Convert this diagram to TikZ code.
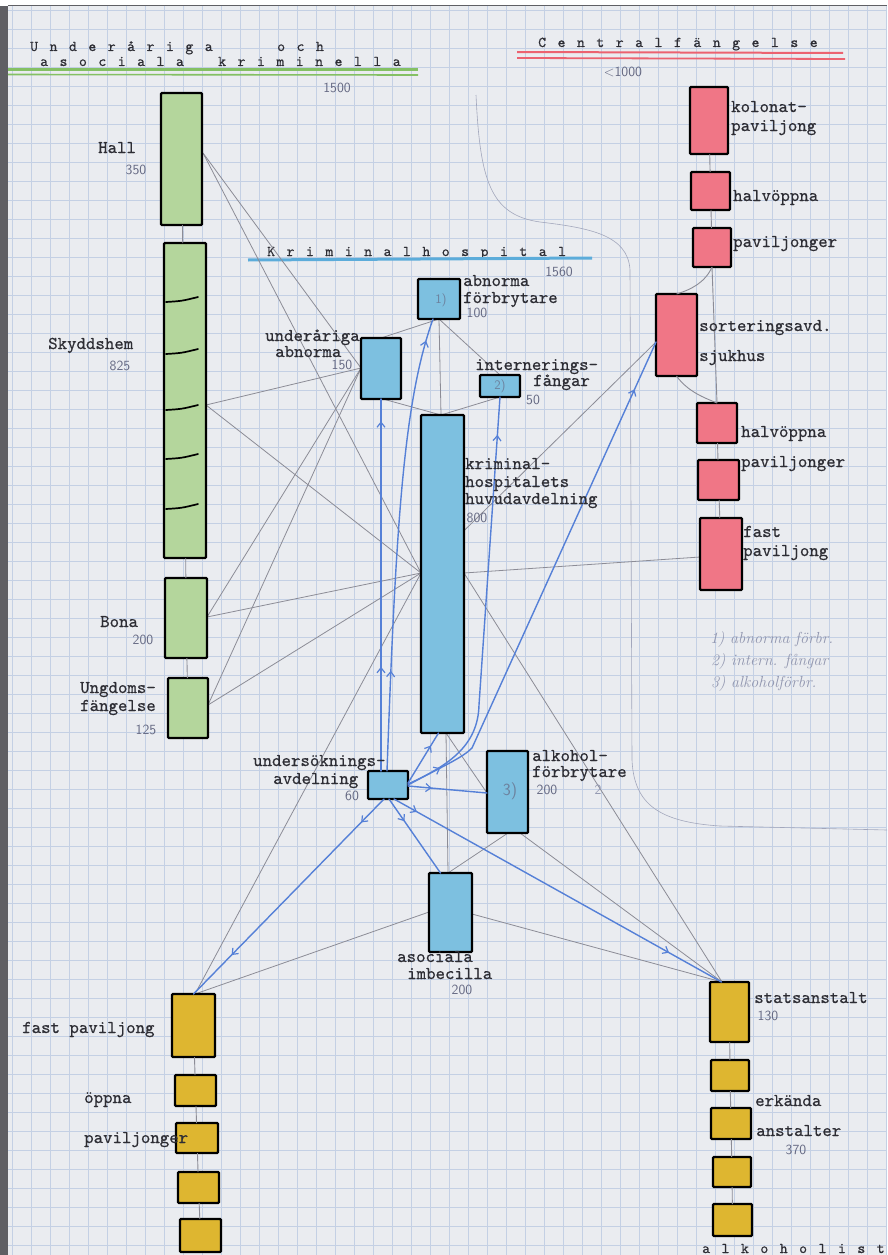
\documentclass[tikz,border=0pt]{standalone}
\usepackage{fontspec}
\newfontfamily\tw{lmmono10-regular.otf}[FakeBold=0.6]
\newfontfamily\twt{lmmono10-regular.otf}[FakeBold=0.6,LetterSpace=11,WordSpace=1.21]
\usetikzlibrary{arrows.meta,decorations.markings}
\definecolor{paper}{RGB}{234,236,240}
\definecolor{gridc}{RGB}{196,208,228}
\definecolor{edgec}{RGB}{95,95,100}
\definecolor{ink}{RGB}{45,45,52}
\definecolor{pencil}{RGB}{100,104,130}
\definecolor{faint}{RGB}{145,150,175}
\definecolor{gfill}{RGB}{180,214,156}
\definecolor{bfill}{RGB}{125,192,224}
\definecolor{rfill}{RGB}{240,118,134}
\definecolor{yfill}{RGB}{222,182,48}
\definecolor{gline}{RGB}{140,140,150}
\definecolor{bpen}{RGB}{85,128,215}
\definecolor{gunder}{RGB}{132,192,100}
\definecolor{runder}{RGB}{236,98,112}
\definecolor{bunder}{RGB}{92,172,218}
\begin{document}
\begin{tikzpicture}[x=1pt,y=-1pt,
  box/.style={draw=black, line width=2.2pt, rounded corners=1pt, inner sep=0pt, outer sep=0pt},
  gbox/.style={box, fill=gfill}, bbox/.style={box, fill=bfill},
  rbox/.style={box, fill=rfill}, ybox/.style={box, fill=yfill},
  tw/.style={font=\tw\fontsize{18}{18}\selectfont, text=ink, inner sep=0pt, anchor=base west},
  ttl/.style={font=\twt\fontsize{15}{15}\selectfont, text=ink, inner sep=0pt, anchor=base west},
  num/.style={font=\sffamily\fontsize{14}{14}\selectfont, text=pencil, inner sep=0pt},
  inbox/.style={font=\sffamily\fontsize{13}{13}\selectfont, text=pencil!70!bfill, inner sep=0pt},
  note/.style={font=\itshape\fontsize{16}{16}\selectfont, text=faint, inner sep=0pt, anchor=base west},
  gl/.style={draw=gline, line width=0.8pt},
  colline/.style={draw=gline, line width=0.9pt},
  bl/.style={draw=bpen, line width=1.4pt, line cap=round},
  marr/.style={postaction={decorate,decoration={markings,mark=at position #1 with {\arrow[bpen,line width=1.2pt]{Straight Barb[length=5pt,width=8pt]}}}}}
]
\useasboundingbox (0,0) rectangle (887,1255);
% paper
\fill[white] (0,0) rectangle (887,1255);
\fill[paper] (8,6) rectangle (887,1255);
\fill[edgec] (0,6) rectangle (8,1255);
\draw[edgec, line width=1pt] (8,6) -- (887,6);
\foreach \i in {0,...,46} {\draw[gridc, line width=0.6pt] (12+19*\i,6) -- (12+19*\i,1255);}
\foreach \j in {0,...,65} {\draw[gridc, line width=0.6pt] (8,10+19*\j) -- (887,10+19*\j);}
% faint pencil outline
\draw[faint!80!paper, line width=0.6pt] (476,95) .. controls (480,180) and (490,215) .. (540,222)
  .. controls (590,228) and (628,235) .. (630,270) -- (632,760)
  .. controls (634,805) and (660,822) .. (720,826) -- (887,830);

% titles
\node[ttl] (t1a) at (30,51) {U n d e r å r i g a};
\node[ttl] (t1b) at (277,51) {o c h};
\node[ttl] (t1c) at (40,66) {a s o c i a l a};
\node[ttl] (t1d) at (218,66) {k r i m i n e l l a};
\draw[gunder, line width=2.2pt] (8,69.5) -- (418,69.5);
\draw[gunder, line width=1.6pt] (8,74.5) -- (418,75);
\node[ttl] (t2) at (538,47) {C e n t r a l f ä n g e l s e};
\draw[runder, line width=2pt] (517,52) -- (843,53);
\draw[runder, line width=1.8pt] (517,58) -- (845,59);
\node[ttl] (t3) at (267,256) {K r i m i n a l h o s p i t a l};
\draw[bunder, line width=3pt] (248,260) -- (592,258);
\node[num] (n1500) at (337,88) {1500};
\node[num] (n1000) at (623,72) {<1000};
\node[num] (n1560) at (559,272) {1560};

% attachment coordinates
\coordinate (hallP) at (203,153);
\coordinate (skyP) at (206,405);
\coordinate (bonaP) at (207,617);
\coordinate (ungP) at (208,705);
\coordinate (undL) at (361,368);
\coordinate (undT) at (381,338);
\coordinate (undB) at (383,399);
\coordinate (abnB) at (439,319);
\coordinate (intT) at (500,375);
\coordinate (intB) at (500,397);
\coordinate (huvT) at (441,415);
\coordinate (hub) at (421,573);
\coordinate (huvR) at (464,573);
\coordinate (huvB) at (446,733);
\coordinate (fastRL) at (700,557);
\coordinate (sortL) at (656,342);
\coordinate (yelT) at (195,994);
\coordinate (asoL) at (429,912);
\coordinate (asoR) at (472,914);
\coordinate (asoT) at (448,873);
\coordinate (alkL) at (487,793);
\coordinate (alkB) at (508,833);
\coordinate (alkBR) at (520,833);
\coordinate (statT) at (722,982);

% gray connectors
\draw[gl] (hallP) -- (undL);
\draw[gl] (hallP) -- (hub);
\draw[gl] (skyP) -- (undL);
\draw[gl] (skyP) -- (hub);
\draw[gl] (bonaP) -- (undL);
\draw[gl] (bonaP) -- (hub);
\draw[gl] (ungP) -- (undL);
\draw[gl] (ungP) -- (hub);
\draw[gl] (yelT) -- (hub);
\draw[gl] (yelT) -- (asoL);
\draw[gl] (sortL) -- (hub);
\draw[gl] (huvR) -- (fastRL);
\draw[gl] (huvR) -- (statT);
\draw[gl] (abnB) -- (undT);
\draw[gl] (abnB) -- (intT);
\draw[gl] (abnB) -- (huvT);
\draw[gl] (undB) -- (huvT);
\draw[gl] (intB) -- (huvT);
\draw[gl] (huvB) -- (asoT);
\draw[gl] (huvB) -- (alkL);
\draw[gl] (asoT) -- (alkB);
\draw[gl] (asoR) -- (statT);
\draw[gl] (alkBR) -- (statT);

% boxes (nodes)
\node[gbox, minimum width=41pt, minimum height=132pt] (hall) at (181.5,159) {};
\node[gbox, minimum width=42pt, minimum height=315pt] (skydd) at (185,400.5) {};
\node[gbox, minimum width=42pt, minimum height=80pt] (bona) at (186,618) {};
\node[gbox, minimum width=40pt, minimum height=60pt] (ungd) at (188,708) {};
\node[bbox, minimum width=42pt, minimum height=40pt] (abnf) at (439,299) {};
\node[bbox, minimum width=40pt, minimum height=61pt] (undab) at (381,368.5) {};
\node[bbox, minimum width=40pt, minimum height=22pt] (intern) at (500,386) {};
\node[bbox, minimum width=43pt, minimum height=318pt] (huvud) at (442.5,574) {};
\node[bbox, minimum width=40pt, minimum height=28pt] (usk) at (388,785) {};
\node[bbox, minimum width=41pt, minimum height=82pt] (alk) at (507.5,792) {};
\node[bbox, minimum width=43pt, minimum height=79pt] (aso) at (450.5,912.5) {};
\node[rbox, minimum width=38pt, minimum height=67pt] (kolonat) at (709,120.5) {};
\node[rbox, minimum width=39pt, minimum height=38pt] (halvA) at (710.5,191) {};
\node[rbox, minimum width=38pt, minimum height=39pt] (pavA) at (712,247.5) {};
\node[rbox, minimum width=41pt, minimum height=82pt] (sort) at (676.5,335) {};
\node[rbox, minimum width=40pt, minimum height=40pt] (halvB) at (717,423) {};
\node[rbox, minimum width=41pt, minimum height=40pt] (pavB) at (718.5,480) {};
\node[rbox, minimum width=42pt, minimum height=72pt] (fastR) at (721,554) {};
\node[ybox, minimum width=43pt, minimum height=63pt] (fastL) at (193.5,1025.5) {};
\node[ybox, minimum width=41pt, minimum height=31pt] (yl2) at (195.5,1090.5) {};
\node[ybox, minimum width=42pt, minimum height=30pt] (yl3) at (197,1138) {};
\node[ybox, minimum width=41pt, minimum height=31pt] (yl4) at (198.5,1187.5) {};
\node[ybox, minimum width=41pt, minimum height=33pt] (yl5) at (200.5,1235.5) {};
\node[ybox, minimum width=39pt, minimum height=60pt] (stat) at (729.5,1012) {};
\node[ybox, minimum width=38pt, minimum height=31pt] (yr2) at (730,1075.5) {};
\node[ybox, minimum width=40pt, minimum height=31pt] (yr3) at (731,1123.5) {};
\node[ybox, minimum width=38pt, minimum height=30pt] (yr4) at (732,1172) {};
\node[ybox, minimum width=39pt, minimum height=32pt] (yr5) at (732.5,1220) {};

% column links
\draw[colline] (hall) -- (skydd);
\draw[colline] (skydd) -- (bona);
\draw[colline] (bona) -- (ungd);
\draw[colline] (kolonat) -- (halvA);
\draw[colline] (halvA) -- (pavA);
\draw[colline] (pavA.south) -- (halvB.north);
\draw[colline] (halvB) -- (pavB);
\draw[colline] (pavB) -- (fastR);
\draw[colline] (pavA.south) .. controls (705,283) and (690,290) .. (sort.north);
\draw[colline] (sort.south) .. controls (688,392) and (705,398) .. (halvB.north);
\draw[colline] (fastL) -- (yl2);
\draw[colline] (yl2) -- (yl3);
\draw[colline] (yl3) -- (yl4);
\draw[colline] (yl4) -- (yl5);
\draw[colline] (stat) -- (yr2);
\draw[colline] (yr2) -- (yr3);
\draw[colline] (yr3) -- (yr4);
\draw[colline] (yr4) -- (yr5);
% Skyddshem dividers
\foreach \yy in {300,352,408,457,507} {\draw[black, line width=1.7pt, line cap=round] (166,\yy+2) .. controls (182,\yy+1) .. (198,\yy-3);}

% blue arrows from undersokningsavdelning
\draw[bl, marr=0.28, marr=0.94] ([xshift=-7pt]usk.north) -- (undab.south);
\draw[bl, marr=0.22, marr=0.95] ([xshift=-1pt]usk.north) .. controls (396,520) and (404,400) .. ([xshift=-6pt]abnf.south);
\draw[bl, marr=0.75] ([yshift=2pt]usk.east) -- ([xshift=-4pt]huvud.south);
\draw[bl, marr=0.91] ([yshift=1pt]usk.east) .. controls (450,765) and (478,745) .. (479,705) -- (intern.south);
\draw[bl, marr=0.07, marr=0.9] (usk.east) .. controls (445,765) and (462,758) .. (472,748) -- (sortL);
\draw[bl, marr=0.3] ([yshift=-1pt]usk.east) -- (alkL);
\draw[bl, marr=0.12, marr=0.8] ([xshift=-4pt]usk.south) -- (fastL.north);
\draw[bl, marr=0.3] ([xshift=1pt]usk.south) -- ([xshift=-10pt]aso.north);
\draw[bl, marr=0.07, marr=0.84] ([xshift=6pt]usk.south) -- ([xshift=-8pt]stat.north);

% labels green
\node[tw] (lHall) at (98,153) {Hall};
\node[num] (n350) at (136,170) {350};
\node[tw] (lSky) at (48,349) {Skyddshem};
\node[num] (n825) at (120,366) {825};
\node[tw] (lBona) at (100,627) {Bona};
\node[num] (n200a) at (143,640) {200};
\node[tw] (lUng1) at (80,693) {Ungdoms-};
\node[tw] (lUng2) at (80,711) {fängelse};
\node[num] (n125) at (146,730) {125};
% labels blue
\node[tw] (lUnd1) at (265,341) {underåriga};
\node[tw] (lUnd2) at (275,357) {abnorma};
\node[num] (n150) at (342,365) {150};
\node[tw] (lAbn1) at (463,286) {abnorma};
\node[tw] (lAbn2) at (463,303) {förbrytare};
\node[num] (n100) at (477,313) {100};
\node[tw] (lInt1) at (475,370) {internerings-};
\node[tw] (lInt2) at (533,386) {fångar};
\node[num] (n50) at (533,400) {50};
\node[tw] (lHuv1) at (465,469) {kriminal-};
\node[tw] (lHuv2) at (465,487) {hospitalets};
\node[tw] (lHuv3) at (465,504) {huvudavdelning};
\node[num] (n800) at (477,518) {800};
\node[tw] (lUsk1) at (253,766) {undersöknings-};
\node[tw] (lUsk2) at (273,784) {avdelning};
\node[num] (n60) at (352,796) {60};
\node[tw] (lAlk1) at (532,761) {alkohol-};
\node[tw] (lAlk2) at (532,777) {förbrytare};
\node[num] (n200b) at (547,790) {200};
\node[num, text=faint] (n2x) at (598,790) {2};
\node[tw] (lAso1) at (397,962) {asociala};
\node[tw] (lAso2) at (407,979) {imbecilla};
\node[num] (n200c) at (462,990) {200};
\node[inbox] (m1) at (441,300) {1)};
\node[inbox] (m2) at (500,386) {2)};
\node[inbox, font=\sffamily\fontsize{17}{17}\selectfont] (m3) at (510,791) {3)};
% labels red
\node[tw] (lKol1) at (731,112) {kolonat-};
\node[tw] (lKol2) at (731,131) {paviljong};
\node[tw] (lHalvA) at (733,201) {halvöppna};
\node[tw] (lPavA) at (733,247) {paviljonger};
\node[tw] (lSort1) at (699,331) {sorteringsavd.};
\node[tw] (lSort2) at (699,361) {sjukhus};
\node[tw] (lHalvB) at (741,437) {halvöppna};
\node[tw] (lPavB) at (741,467) {paviljonger};
\node[tw] (lFast1) at (743,537) {fast};
\node[tw] (lFast2) at (743,556) {paviljong};
% pencil notes
\node[note] (note1) at (710,643) {1) abnorma förbr.};
\node[note] (note2) at (711,665) {2) intern. fångar};
\node[note] (note3) at (711,687) {3) alkoholförbr.};
% labels yellow
\node[tw] (lFastL) at (22,1033) {fast paviljong};
\node[tw] (lOpp1) at (84,1103) {öppna};
\node[tw] (lOpp2) at (84,1143) {paviljonger};
\node[tw] (lStat) at (754,1003) {statsanstalt};
\node[num] (n130) at (768,1016) {130};
\node[tw] (lErk1) at (755,1106) {erkända};
\node[tw] (lErk2) at (756,1136) {anstalter};
\node[num] (n370) at (796,1150) {370};
\node[ttl] (t4) at (702,1253) {a l k o h o l i s t};
\end{tikzpicture}
\end{document}
